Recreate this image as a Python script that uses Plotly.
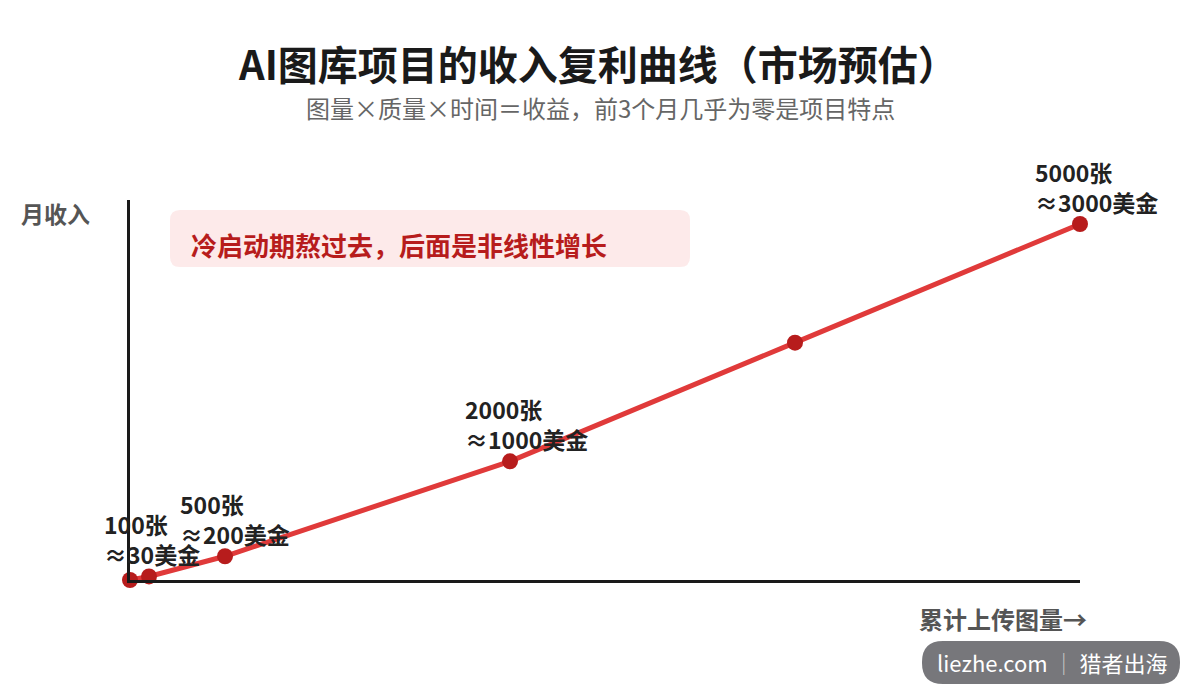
import plotly.graph_objects as go

# Data
images = [0, 100, 500, 2000, 3500, 5000]
revenue = [0, 30, 200, 1000, 2000, 3000]
labels = ["", "100张<br>≈30美金", "500张<br>≈200美金", "2000张<br>≈1000美金", "", "5000张<br>≈3000美金"]

title_text = "AI图库项目的收入复利曲线（市场预估）"
subtitle_text = "图量×质量×时间＝收益，前3个月几乎为零是项目特点"
callout_text = "冷启动期熬过去，后面是非线性增长"
y_title = "月收入"
x_title = "累计上传图量→"

FONT = "Noto Sans CJK SC"

fig = go.Figure()
fig.add_trace(go.Scatter(
    x=images, y=revenue, mode="lines+markers",
    line=dict(color="#e03a3a", width=5),
    marker=dict(color="#b71c1c", size=16),
    cliponaxis=False, hoverinfo="skip", showlegend=False,
))

# plot-area geometry helpers (px -> paper)
L, R, T, B = 130, 1080, 200, 580
def px(x):
    return (x - L) / (R - L)
def py(y):
    return (B - y) / (B - T)

annotations = []
for xv, yv, lab in zip(images, revenue, labels):
    if not lab:
        continue
    annotations.append(dict(
        x=xv, y=yv, xref="x", yref="y", text=lab, showarrow=False,
        xanchor="left", yanchor="bottom", align="left",
        xshift=-47, yshift=3,
        font=dict(family=FONT, size=23, color="#222222", weight="bold"),
    ))

annotations += [
    dict(x=px(598), y=py(63), xref="paper", yref="paper", text=title_text,
         showarrow=False, xanchor="center", yanchor="middle",
         font=dict(family=FONT, size=40, color="#1a1a1a", weight="bold")),
    dict(x=px(600), y=py(108), xref="paper", yref="paper", text=subtitle_text,
         showarrow=False, xanchor="center", yanchor="middle",
         font=dict(family=FONT, size=24, color="#666666")),
    dict(x=px(55), y=py(213), xref="paper", yref="paper", text=y_title,
         showarrow=False, xanchor="center", yanchor="middle",
         font=dict(family=FONT, size=23, color="#555555", weight="bold")),
    dict(x=px(1089), y=py(618), xref="paper", yref="paper", text=x_title,
         showarrow=False, xanchor="right", yanchor="middle",
         font=dict(family=FONT, size=24, color="#555555", weight="bold")),
    dict(x=px(189), y=py(244), xref="paper", yref="paper", text=callout_text,
         showarrow=False, xanchor="left", yanchor="middle",
         font=dict(family=FONT, size=26, color="#b71c1c", weight="bold")),
    dict(x=px(1052), y=py(662), xref="paper", yref="paper",
         text="liezhe.com <span style='color:#c8c8c8'>│</span> 猎者出海",
         showarrow=False, xanchor="center", yanchor="middle",
         font=dict(family=FONT, size=22, color="#ffffff")),
]

def rounded_rect(x0, y0, x1, y1, r):
    # pixel coords -> paper path with rounded corners
    rx = r / (R - L)
    ry = r / (B - T)
    X0, X1 = px(x0), px(x1)
    Yt, Yb = py(y0), py(y1)
    return (f"M {X0+rx},{Yt} L {X1-rx},{Yt} Q {X1},{Yt} {X1},{Yt-ry} "
            f"L {X1},{Yb+ry} Q {X1},{Yb} {X1-rx},{Yb} L {X0+rx},{Yb} "
            f"Q {X0},{Yb} {X0},{Yb+ry} L {X0},{Yt-ry} Q {X0},{Yt} {X0+rx},{Yt} Z")

shapes = [
    dict(type="path", xref="paper", yref="paper", path=rounded_rect(170, 210, 690, 267, 10),
         fillcolor="#fdeaea", line=dict(width=0), layer="below"),
    dict(type="path", xref="paper", yref="paper", path=rounded_rect(922, 641, 1180, 684, 21),
         fillcolor="#77777b", line=dict(width=0), layer="below"),
]

fig.update_layout(
    width=1200, height=700,
    margin=dict(l=L, r=1200 - R, t=T, b=700 - B),
    paper_bgcolor="white", plot_bgcolor="white",
    annotations=annotations, shapes=shapes,
    xaxis=dict(range=[0, 5000], showgrid=False, zeroline=False, showticklabels=False,
               ticks="", showline=True, linecolor="#1a1a1a", linewidth=3, fixedrange=True),
    yaxis=dict(range=[0, 3202], showgrid=False, zeroline=False, showticklabels=False,
               ticks="", showline=True, linecolor="#1a1a1a", linewidth=3, fixedrange=True),
    font=dict(family=FONT),
)

fig.write_html("out.html")
